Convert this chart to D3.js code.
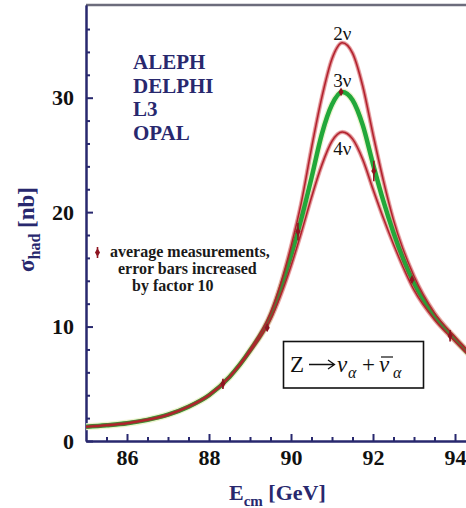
<!DOCTYPE html>
<html>
<head>
<meta charset="utf-8">
<script src="https://cdn.jsdelivr.net/npm/d3@7"></script>
<style>
  body { margin: 0; background: #fff; }
  svg { display: block; }
  text { font-family: "Liberation Serif", "Times New Roman", serif; }
</style>
</head>
<body>
<svg id="chart" width="466" height="508"></svg>
<script>
  var energies = [85, 85.5, 86, 86.5, 87, 87.5, 88, 88.5, 89, 89.5, 90, 90.25, 90.5,
                  90.75, 91, 91.25, 91.5, 91.75, 92, 92.25, 92.5, 93, 93.5, 94, 94.5];

  // sigma_had (nb) for 2, 3 and 4 neutrino families
  var sigma2nu = [1.25, 1.38, 1.55, 1.85, 2.3, 3.0, 4.0, 5.6, 8.0, 11.2, 17.0, 20.8, 25.6,
                  30.0, 33.4, 34.8, 33.9, 31.0, 26.8, 22.8, 19.3, 14.4, 11.2, 9.1, 7.2];
  var sigma3nu = [1.25, 1.38, 1.55, 1.85, 2.3, 3.0, 4.0, 5.6, 7.9, 10.9, 16.2, 19.4, 23.0,
                  26.8, 29.4, 30.5, 29.8, 27.6, 24.2, 21.0, 18.2, 13.8, 10.9, 8.9, 7.0];
  var sigma4nu = [1.25, 1.38, 1.55, 1.85, 2.3, 3.0, 4.0, 5.6, 7.8, 10.6, 15.3, 18.2, 21.3,
                  24.1, 26.2, 27.0, 26.4, 24.6, 22.0, 19.5, 17.2, 13.2, 10.6, 8.7, 6.9];

  // averaged measurements, errors already blown up x10
  var measEnergy = [88.34, 89.42, 90.17, 91.22, 92.02, 92.95, 93.88];
  var measSigma  = [5.0, 9.9, 18.3, 30.5, 23.6, 14.1, 9.2];
  var measError  = [0.45, 0.3, 0.75, 0.25, 0.9, 0.25, 0.5];

  var experiments = ["ALEPH", "DELPHI", "L3", "OPAL"];
  var xMajorTicks = [86, 88, 90, 92, 94];
  var yMajorTicks = [0, 10, 20, 30];

  var navy = "#28286e";
  var red = "#b3202c";
  var green = "#22a83a";

  var svg = d3.select("#chart");
  // note: "top" is taken by window.top, so use plot* names
  var plotLeft = 86, plotRight = 466, plotTop = 5, plotBottom = 441;

  var x = d3.scaleLinear().domain([85, 94.268]).range([plotLeft, plotRight]);
  var y = d3.scaleLinear().domain([0, 38.1]).range([plotBottom, plotTop]);

  svg.append("clipPath").attr("id", "plotclip")
    .append("rect")
    .attr("x", plotLeft).attr("y", plotTop)
    .attr("width", plotRight - plotLeft).attr("height", plotBottom - plotTop);

  // top frame line
  svg.append("line")
    .attr("x1", plotLeft).attr("x2", plotRight)
    .attr("y1", plotTop).attr("y2", plotTop)
    .style("stroke", "#6c6c7c").style("stroke-width", 2.5);

  // minor ticks first, then major ticks with labels
  var xMinor = d3.range(85.5, 94.3, 0.5).filter(function(v) { return v % 2 !== 0; });
  var yMinor = d3.range(2, 38, 2).filter(function(v) { return v % 10 !== 0; });

  function style_axis(g) {
    g.selectAll("path, line").style("stroke", navy).style("stroke-width", 2);
    g.selectAll("text")
      .style("font-size", "22px").style("font-weight", "bold")
      .style("fill", "#111");
  }

  svg.append("g")
    .attr("transform", "translate(0," + plotBottom + ")")
    .call(d3.axisBottom(x).tickValues(xMinor).tickSize(-4).tickSizeOuter(0).tickFormat(""))
    .call(style_axis);
  svg.append("g")
    .attr("transform", "translate(0," + plotBottom + ")")
    .call(d3.axisBottom(x).tickValues(xMajorTicks).tickSize(-7).tickSizeOuter(0).tickPadding(8)
      .tickFormat(d3.format("d")))
    .call(style_axis);

  svg.append("g")
    .attr("transform", "translate(" + plotLeft + ",0)")
    .call(d3.axisLeft(y).tickValues(yMinor).tickSize(-4).tickSizeOuter(0).tickFormat(""))
    .call(style_axis);
  svg.append("g")
    .attr("transform", "translate(" + plotLeft + ",0)")
    .call(d3.axisLeft(y).tickValues(yMajorTicks).tickSize(-7).tickSizeOuter(0).tickPadding(12)
      .tickFormat(d3.format("d")))
    .call(style_axis);

  // curves
  var rows = energies.map(function(e, i) {
    return { e: e, s2: sigma2nu[i], s3: sigma3nu[i], s4: sigma4nu[i] };
  });

  function line_for(key) {
    return d3.line()
      .x(function(d) { return x(d.e); })
      .y(function(d) { return y(d[key]); })
      .curve(d3.curveMonotoneX);
  }

  var curves = svg.append("g").attr("clip-path", "url(#plotclip)");

  // soft halo under the lines
  ["s2", "s4"].forEach(function(k) {
    curves.append("path").datum(rows).attr("d", line_for(k))
      .style("fill", "none").style("stroke", "#f6cccc").style("stroke-width", 4.5);
  });
  curves.append("path").datum(rows).attr("d", line_for("s3"))
    .style("fill", "none").style("stroke", "#eef3cf").style("stroke-width", 7);

  curves.append("path").datum(rows).attr("d", line_for("s3"))
    .style("fill", "none").style("stroke", green).style("stroke-width", 4.5);

  // translucent red over the green, so the merged tail turns brownish
  ["s2", "s4"].forEach(function(k) {
    curves.append("path").datum(rows).attr("d", line_for(k))
      .style("fill", "none").style("stroke", red).style("stroke-opacity", 0.35)
      .style("stroke-width", 3.6);
  });
  ["s2", "s4"].forEach(function(k) {
    curves.append("path").datum(rows).attr("d", line_for(k))
      .style("fill", "none").style("stroke", red).style("stroke-width", 1.5);
  });

  // measurements
  var meas = measEnergy.map(function(e, i) {
    return { e: e, s: measSigma[i], err: measError[i] };
  });
  var diamond = d3.symbol().type(d3.symbolDiamond).size(22);

  var points = curves.selectAll(".meas").data(meas).enter()
    .append("g").attr("class", "meas");
  points.append("line")
    .attr("x1", function(d) { return x(d.e); })
    .attr("x2", function(d) { return x(d.e); })
    .attr("y1", function(d) { return y(d.s - d.err); })
    .attr("y2", function(d) { return y(d.s + d.err); })
    .style("stroke", "#8e1420").style("stroke-width", 1.6);
  points.append("path")
    .attr("d", diamond)
    .attr("transform", function(d) { return "translate(" + x(d.e) + "," + y(d.s) + ")"; })
    .style("fill", "#8e1420");

  // neutrino family labels
  var nuLabels = [["2ν", 40], ["3ν", 87], ["4ν", 155]];
  nuLabels.forEach(function(l) {
    svg.append("text")
      .attr("x", x(91.25)).attr("y", l[1])
      .attr("text-anchor", "middle")
      .style("font-size", "19px").style("fill", "#111")
      .text(l[0]);
  });

  // experiment names
  svg.selectAll(".exp").data(experiments).enter()
    .append("text").attr("class", "exp")
    .attr("x", 133)
    .attr("y", function(d, i) { return 69 + i * 23.7; })
    .style("font-size", "21px").style("font-weight", "bold").style("fill", navy)
    .text(function(d) { return d; });

  // legend for measurements
  svg.append("line")
    .attr("x1", 97.5).attr("x2", 97.5).attr("y1", 247).attr("y2", 258)
    .style("stroke", "#8e1420").style("stroke-width", 1.6);
  svg.append("path").attr("d", diamond)
    .attr("transform", "translate(97.5,252.5)").style("fill", "#8e1420");

  var legendLines = [["average measurements,", 110, 257],
                     ["error bars increased", 118, 274],
                     ["by factor 10", 132, 291]];
  legendLines.forEach(function(l) {
    svg.append("text")
      .attr("x", l[1]).attr("y", l[2])
      .style("font-size", "16px").style("font-weight", "bold").style("fill", "#1a1a1a")
      .text(l[0]);
  });

  // Z -> nu + nubar box
  svg.append("rect")
    .attr("x", 283.5).attr("y", 341.5).attr("width", 140).attr("height", 46.5)
    .style("fill", "#fff").style("stroke", "#111").style("stroke-width", 1.6);

  var box = svg.append("g").style("fill", "#111");
  box.append("text").attr("x", 290).attr("y", 372).style("font-size", "23px").text("Z");
  // arrow drawn by hand, the font glyph is too short
  box.append("path").attr("d", "M309,364.5H334M328,360L334.5,364.5L328,369")
    .style("fill", "none").style("stroke", "#111").style("stroke-width", 1.3);
  box.append("text").attr("x", 337).attr("y", 372).style("font-size", "23px")
    .style("font-style", "italic").text("ν");
  box.append("text").attr("x", 348).attr("y", 378).style("font-size", "16px")
    .style("font-style", "italic").text("α");
  box.append("text").attr("x", 362).attr("y", 372).style("font-size", "23px").text("+");
  box.append("text").attr("x", 379).attr("y", 372).style("font-size", "23px")
    .style("font-style", "italic").text("ν");
  box.append("line").attr("x1", 381).attr("x2", 393).attr("y1", 357).attr("y2", 357)
    .style("stroke", "#111").style("stroke-width", 1.2);
  box.append("text").attr("x", 393).attr("y", 378).style("font-size", "16px")
    .style("font-style", "italic").text("α");

  // axis titles
  var xt = svg.append("text")
    .attr("x", 229).attr("y", 500)
    .style("font-size", "22px").style("font-weight", "bold").style("fill", navy);
  xt.append("tspan").text("E");
  xt.append("tspan").attr("dy", 6).style("font-size", "15px").text("cm");
  xt.append("tspan").attr("dy", -6).text(" [GeV]");

  var yt = svg.append("text")
    .attr("transform", "translate(34,272) rotate(-90)")
    .style("font-size", "23px").style("font-weight", "bold").style("fill", navy);
  yt.append("tspan").text("σ");
  yt.append("tspan").attr("dy", 6).style("font-size", "16px").text("had");
  yt.append("tspan").attr("dy", -6).text(" [nb]");
</script>
</body>
</html>
